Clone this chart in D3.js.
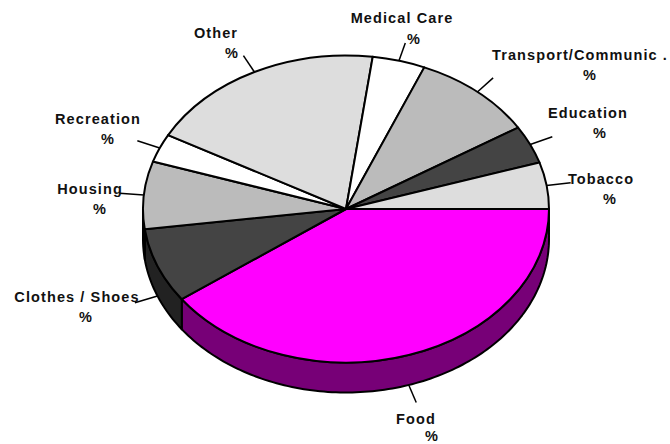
<!doctype html>
<html>
  <head>
    <script src="https://cdn.jsdelivr.net/npm/d3@7"></script>
    <style>
      html, body { margin: 0; padding: 0; background: #fff; }
      text { font-family: "Liberation Sans", Arial, sans-serif; font-weight: bold; font-size: 14.5px; letter-spacing: 1.1px; fill: #111; }
    </style>
  </head>
  <body>
    <div id="my_dataviz"></div>
    <script>
      // slices clockwise from 3 o'clock (share in %)
      var categories = ["Food", "Clothes / Shoes", "Housing", "Recreation", "Other", "Medical Care", "Transport/Communic .", "Education", "Tobacco"];
      var shares = [40, 7.9, 7.1, 3, 19.1, 4.2, 9.8, 4, 4.9];
      var valueLabels = ["%", "%", "%", "%", "%", "%", "%", "%", "%"];

      var topColors = ["#ff00ff", "#444444", "#bbbbbb", "#ffffff", "#dddddd", "#ffffff", "#bbbbbb", "#444444", "#dddddd"];
      var sideColors = ["#770077", "#222222", "#5e5e5e", "#808080", "#6e6e6e", "#808080", "#5e5e5e", "#222222", "#6e6e6e"];

      // the label spots are hand placed, as in the original
      // [name x, name baseline, % x, % baseline]
      var labelPlace = {
        "Food": [416, 424, 432, 440.5],
        "Clothes / Shoes": [77, 302, 86, 322],
        "Housing": [90, 194, 100, 214],
        "Recreation": [98, 124, 108, 144],
        "Other": [216, 38, 232, 58],
        "Medical Care": [402, 23, 414, 44],
        "Transport/Communic .": [580, 60, 590, 80],
        "Education": [588, 118, 600, 138],
        "Tobacco": [601, 184, 610, 204]
      };

      var width = 670, height = 444;
      var cx = 346, cy = 209, rx = 203, ry = 153.5, depth = 30;
      var leaderScale = 1.12;

      var svg = d3.select("#my_dataviz")
        .append("svg")
        .attr("width", width)
        .attr("height", height)
        .style("display", "block");

      var slices = categories.map(function(name, i) {
        return {name: name, value: shares[i], label: valueLabels[i], color: topColors[i], side: sideColors[i]};
      });

      // d3 angles start at 12 o'clock, so start a quarter turn later
      var pie = d3.pie()
        .sort(null)
        .value(function(d) { return d.value; })
        .startAngle(Math.PI / 2)
        .endAngle(Math.PI / 2 + 2 * Math.PI);
      var arcs = pie(slices);

      // point on the tilted ellipse for a d3 angle
      function ex(a, k) { return cx + rx * (k || 1) * Math.sin(a); }
      function ey(a, k) { return cy - ry * (k || 1) * Math.cos(a); }

      // the wall: only the front half of the ellipse shows
      var wall = d3.line();
      function wallPath(d) {
        var a0 = Math.max(d.startAngle, Math.PI / 2), a1 = Math.min(d.endAngle, 3 * Math.PI / 2);
        if (a1 <= a0) return null;
        var angles = d3.range(a0, a1, 0.02).concat([a1]);
        var front = angles.map(function(a) { return [ex(a), ey(a)]; });
        var back = angles.slice().reverse().map(function(a) { return [ex(a), ey(a) + depth]; });
        return wall(front.concat(back)) + "Z";
      }

      svg.append("g")
        .selectAll("path")
        .data(arcs)
        .enter()
        .append("path")
          .attr("d", wallPath)
          .attr("fill", function(d) { return d.data.side; })
          .attr("stroke", "#000")
          .attr("stroke-width", 2)
          .attr("stroke-linejoin", "round");

      // top face, squashed circle
      var arc = d3.arc().innerRadius(0).outerRadius(rx);
      svg.append("g")
        .attr("transform", "translate(" + cx + "," + cy + ") scale(1," + (ry / rx) + ")")
        .selectAll("path")
        .data(arcs)
        .enter()
        .append("path")
          .attr("d", arc)
          .attr("fill", function(d) { return d.data.color; })
          .attr("stroke", "#000")
          .attr("stroke-width", 2)
          .attr("stroke-linejoin", "round")
          .attr("vector-effect", "non-scaling-stroke");

      // leader lines leave from the middle of each slice
      function midAngle(d) { return (d.startAngle + d.endAngle) / 2; }
      function drop(d) {
        var a = midAngle(d);
        return (a > Math.PI / 2 && a < 3 * Math.PI / 2) ? depth : 0;
      }
      svg.append("g")
        .selectAll("line")
        .data(arcs)
        .enter()
        .append("line")
          .attr("x1", function(d) { return ex(midAngle(d)); })
          .attr("y1", function(d) { return ey(midAngle(d)) + drop(d); })
          .attr("x2", function(d) { return ex(midAngle(d), leaderScale); })
          .attr("y2", function(d) { return ey(midAngle(d), leaderScale) + drop(d); })
          .attr("stroke", "#000")
          .attr("stroke-width", 1.5);

      var labels = svg.append("g")
        .selectAll("g")
        .data(slices)
        .enter()
        .append("g");
      labels.append("text")
        .attr("text-anchor", "middle")
        .attr("x", function(d) { return labelPlace[d.name][0]; })
        .attr("y", function(d) { return labelPlace[d.name][1]; })
        .text(function(d) { return d.name; });
      labels.append("text")
        .attr("text-anchor", "middle")
        .attr("x", function(d) { return labelPlace[d.name][2]; })
        .attr("y", function(d) { return labelPlace[d.name][3]; })
        .text(function(d) { return d.label; });
    </script>
  </body>
</html>
